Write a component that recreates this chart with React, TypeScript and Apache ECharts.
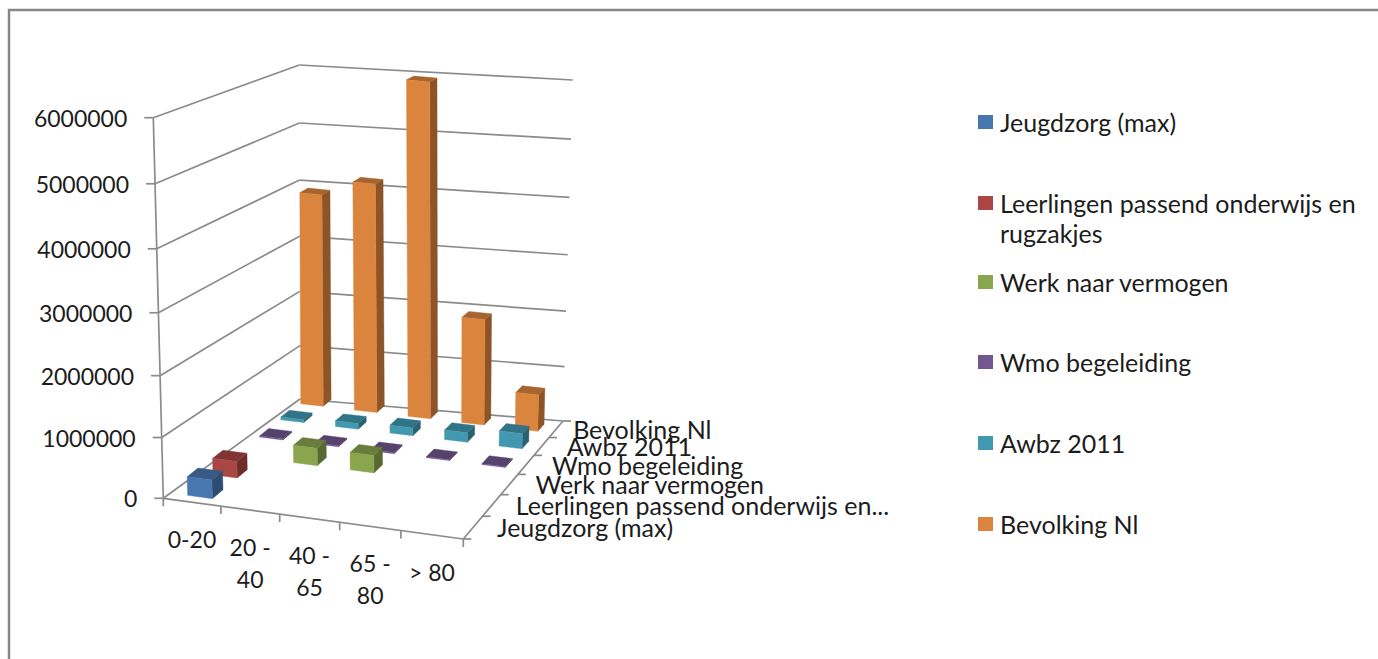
import React, { useEffect, useRef } from "react";
import * as echarts from "echarts";

const categories = ["0-20", "20 -\n40", "40 -\n65", "65 -\n80", "> 80"];
const seriesNames = [
  "Jeugdzorg (max)",
  "Leerlingen passend onderwijs en rugzakjes",
  "Werk naar vermogen",
  "Wmo begeleiding",
  "Awbz 2011",
  "Bevolking Nl",
];
const depthLabels = [
  "Jeugdzorg (max)",
  "Leerlingen passend onderwijs en...",
  "Werk naar vermogen",
  "Wmo begeleiding",
  "Awbz 2011",
  "Bevolking Nl",
];
const jeugdzorg = [310000, null, null, null, null];
const leerlingen = [280000, null, null, null, null];
const werkNaarVermogen = [null, 300000, 300000, null, null];
const wmoBegeleiding = [20000, 20000, 20000, 15000, 15000];
const awbz = [50000, 100000, 140000, 170000, 270000];
const bevolking = [3800000, 4080000, 5900000, 1900000, 660000];
const seriesValues = [jeugdzorg, leerlingen, werkNaarVermogen, wmoBegeleiding, awbz, bevolking];
const colors = ["#4877b0", "#aa4643", "#89a54e", "#71588f", "#4198af", "#db843d"];
const yTicks = [0, 1000000, 2000000, 3000000, 4000000, 5000000, 6000000];
const legendCenters = [122, 203, 282, 362, 443, 524];
const depthLabelGaps = [24, 24, 26, 26, 25, 17];

// Perspective frame of the 3D box (corners: front-left, front-right, back-right, back-left)
type P = [number, number];
const FLOOR: P[] = [[163.3, 498.3], [463.3, 539], [563, 421], [300, 399]];
const CEIL: P[] = [[153.3, 117.7], [469.7, 151], [572.7, 80], [299.3, 65]];
// Plane on which the bars stand: u along categories, t from the first row's front to the last row's front
const BARS: P[] = [[170.5, 493], [465.5, 533], [553.3, 433.1], [285.2, 401.9]];
const GRID = { left: 100, top: 100, width: 500, height: 300 };
const FONT = "Lato";
const TEXT = "#1c1c1c";
const LINE = "#8b8b8b";
const BAR_HALF = 0.21;

function homography(q: P[]) {
  const [[x0, y0], [x1, y1], [x2, y2], [x3, y3]] = q;
  const dx1 = x1 - x2, dx2 = x3 - x2, sx = x0 - x1 + x2 - x3;
  const dy1 = y1 - y2, dy2 = y3 - y2, sy = y0 - y1 + y2 - y3;
  const det = dx1 * dy2 - dx2 * dy1;
  const g = (sx * dy2 - dx2 * sy) / det;
  const h = (dx1 * sy - sx * dy1) / det;
  const a = x1 - x0 + g * x1, b = x3 - x0 + h * x3, c = x0;
  const d = y1 - y0 + g * y1, e = y3 - y0 + h * y3, f = y0;
  return (u: number, v: number): P => {
    const n = g * u + h * v + 1;
    return [(a * u + b * v + c) / n, (d * u + e * v + f) / n];
  };
}
const floorAt = homography(FLOOR);
const ceilAt = homography(CEIL);
const lerp = (a: P, b: P, t: number): P => [a[0] + (b[0] - a[0]) * t, a[1] + (b[1] - a[1]) * t];
function project(u: number, v: number, w: number): P {
  const t = w + 0.05 * w * (w - 1);
  return lerp(floorAt(u, v), ceilAt(u, v), t);
}
const frontAt = (u: number): P => lerp(FLOOR[0], FLOOR[1], u - 0.05 * u * (1 - u));
const sideAt = (v: number): P => lerp(FLOOR[1], FLOOR[2], v + 0.19 * v * (1 - v));

function barPoint(u: number, t: number, w: number): P {
  const tt = t + 0.15 * t * (1 - t);
  const base = lerp(lerp(BARS[0], BARS[1], u), lerp(BARS[3], BARS[2], u), tt);
  const v = 0.048 + 0.834 * t;
  const a = project(u, v, 0);
  const b = project(u, v, w);
  return [base[0] + b[0] - a[0], base[1] + b[1] - a[1]];
}
const toU = (px: number) => (px - GRID.left) / GRID.width;
const toW = (py: number) => (GRID.top + GRID.height - py) / GRID.height;

function shade(hex: string, k: number) {
  const n = parseInt(hex.slice(1), 16);
  const c = [(n >> 16) & 255, (n >> 8) & 255, n & 255].map((x) => Math.round(x * k));
  return `rgb(${c[0]},${c[1]},${c[2]})`;
}

function barRenderer(seriesIndex: number) {
  const t0 = seriesIndex / (seriesNames.length - 1);
  return (_: any, api: any) => {
    const cat = api.value(0);
    const val = api.value(1);
    const top = api.coord([cat, val]);
    const slot = api.size([1, 0])[0] / GRID.width;
    const uc = toU(top[0]);
    const w = toW(top[1]);
    const hu = slot * BAR_HALF;
    const u0 = uc - hu, u1 = uc + hu, t1 = t0 + 0.084;
    const base = api.visual("color");
    const face = (pts: P[], fill: string) => ({
      type: "polygon",
      shape: { points: pts },
      style: { fill, stroke: fill, lineWidth: 0.4 },
    });
    return {
      type: "group",
      children: [
        face([barPoint(u1, t0, 0), barPoint(u1, t1, 0), barPoint(u1, t1, w), barPoint(u1, t0, w)], shade(base, 0.64)),
        face([barPoint(u0, t0, w), barPoint(u1, t0, w), barPoint(u1, t1, w), barPoint(u0, t1, w)], shade(base, 0.76)),
        face([barPoint(u0, t0, 0), barPoint(u1, t0, 0), barPoint(u1, t0, w), barPoint(u0, t0, w)], base),
      ],
    };
  };
}

function frameRenderer(_: any, api: any) {
  const kids: any[] = [];
  const line = (a: P, b: P) =>
    kids.push({
      type: "line",
      shape: { x1: a[0], y1: a[1], x2: b[0], y2: b[1] },
      style: { stroke: LINE, lineWidth: 1.7 },
    });
  const text = (s: string, x: number, y: number, align: string, verticalAlign: string, fontSize: number) =>
    kids.push({
      type: "text",
      style: { text: s, x, y, align, verticalAlign, fill: TEXT, fontSize, fontFamily: FONT, lineHeight: 32 },
    });
  yTicks.forEach((t) => {
    const w = toW(api.coord([0, t])[1]);
    const a = project(0, 0, w), d = project(0, 1, w), c = project(1, 1, w);
    line(a, d);
    line(d, c);
    line(a, [a[0] - 9, a[1]]);
    text(String(t), a[0] - 26, a[1], "right", "middle", 23);
  });
  line(project(0, 0, 0), project(0, 0, 1));
  line(project(0, 0, 0), project(1, 0, 0));
  line(project(1, 0, 0), project(1, 1, 0));
  categories.forEach((_c, i) => {
    const u = toU(api.coord([i, 0])[0]);
    const p = frontAt(u);
    text(categories[i], p[0], p[1] + 21, "center", "top", 23);
  });
  for (let i = 0; i <= categories.length; i++) {
    const p = frontAt(i / categories.length);
    line(p, [p[0], p[1] + 8]);
  }
  for (let i = 0; i <= depthLabels.length; i++) {
    const p = sideAt(i / depthLabels.length);
    line(p, [p[0] + 8, p[1]]);
  }
  depthLabels.forEach((s, i) => {
    const p = sideAt((i + 0.5) / depthLabels.length);
    text(s, p[0] + depthLabelGaps[i], p[1], "left", "middle", 25);
  });
  return { type: "group", children: kids };
}

export default function App() {
  const ref = useRef<HTMLDivElement>(null);
  useEffect(() => {
    const chart = echarts.init(ref.current!, undefined, { renderer: "svg" });
    const barSeries = seriesNames.map((name, i) => ({
      type: "custom",
      name,
      coordinateSystem: "cartesian2d",
      clip: false,
      silent: true,
      z: 20 - i,
      itemStyle: { color: colors[i] },
      encode: { x: 0, y: 1 },
      renderItem: barRenderer(i),
      data: seriesValues[i]
        .map((v, c) => [c, v])
        .filter((d) => d[1] !== null),
    }));
    const legends = seriesNames.map((name, i) => {
      const wrapped = i === 1;
      return {
        show: true,
        data: [name],
        left: 978,
        top: legendCenters[i] - (wrapped ? 46.5 : 16.5),
        padding: 0,
        orient: "vertical",
        selectedMode: false,
        icon: "rect",
        itemWidth: 15,
        itemHeight: 14,
        formatter: wrapped ? () => "\nLeerlingen passend onderwijs en\nrugzakjes" : undefined,
        textStyle: { color: TEXT, fontSize: 25, fontFamily: FONT, lineHeight: 30, padding: [0, 0, 3, 2] },
      };
    });
    chart.setOption({
      animation: false,
      backgroundColor: "#ffffff",
      grid: { ...GRID, containLabel: false },
      xAxis: { type: "category", data: categories, show: false },
      yAxis: { type: "value", min: 0, max: 6000000, interval: 1000000, show: false },
      legend: legends,
      graphic: [
        {
          type: "rect",
          silent: true,
          z: -1,
          shape: { x: 9, y: 10, width: 1500, height: 800 },
          style: { fill: "none", stroke: "#868686", lineWidth: 2.5 },
        },
      ],
      series: [
        {
          type: "custom",
          name: "frame",
          coordinateSystem: "cartesian2d",
          clip: false,
          silent: true,
          z: 1,
          encode: { x: 0, y: 1 },
          renderItem: frameRenderer,
          data: [[0, 0]],
        },
        ...barSeries,
      ],
    });
    return () => chart.dispose();
  }, []);
  return (
    <div
      ref={ref}
      style={{ position: "absolute", left: 0, top: 0, width: 1378, height: 659, overflow: "hidden" }}
    />
  );
}
